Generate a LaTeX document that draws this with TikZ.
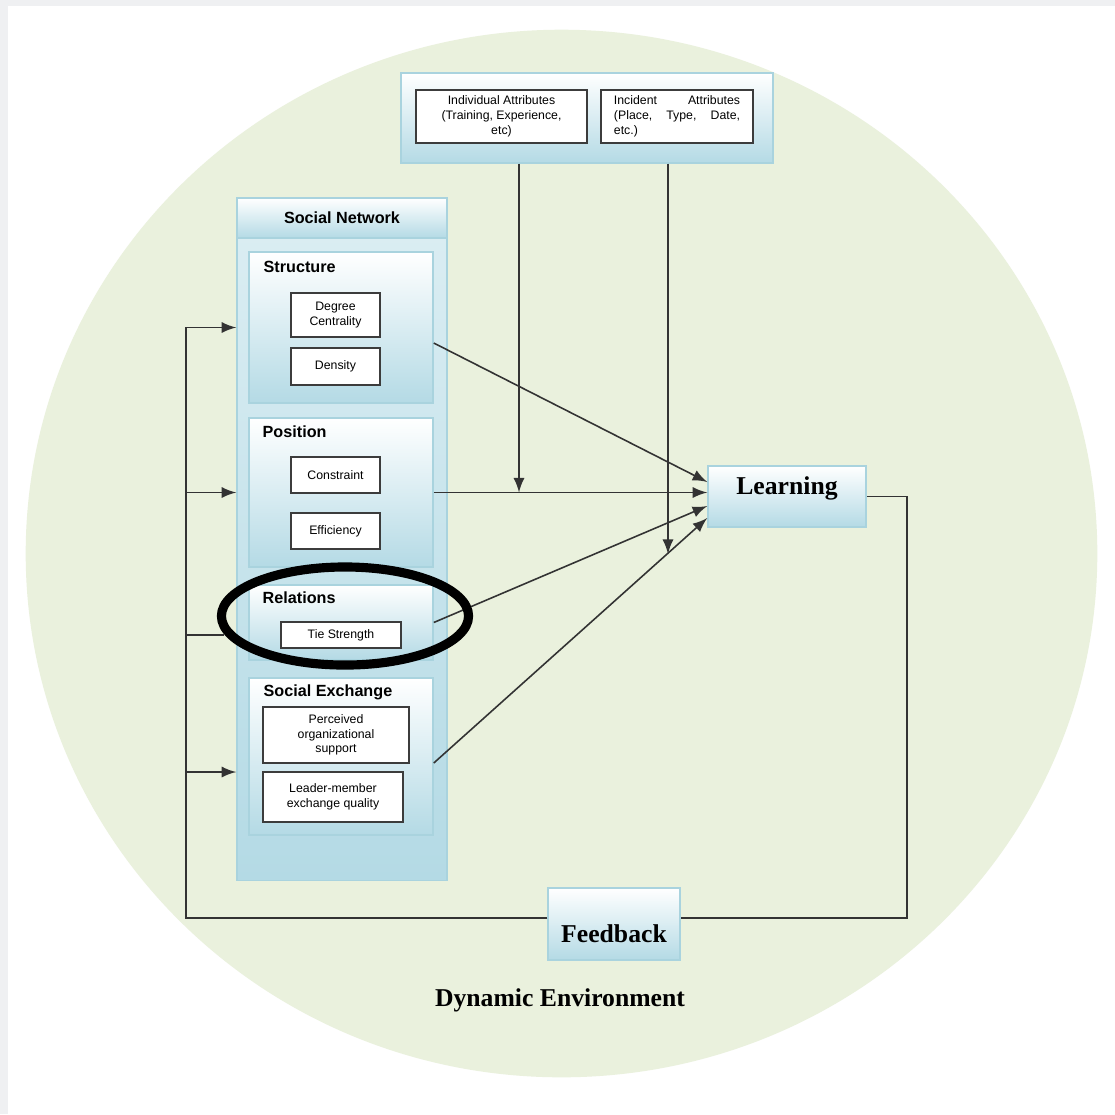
\documentclass[tikz,border=0pt]{standalone}
\usepackage{fontspec}
\setmainfont{Liberation Serif}
\setsansfont{Liberation Sans}
\usetikzlibrary{arrows}
\usetikzlibrary{positioning, shapes.geometric}

\definecolor{envGreen}{HTML}{EAF1DD}
\definecolor{frameGray}{HTML}{EFF0F2}
\definecolor{boxBlue}{HTML}{B4DAE5}
\definecolor{snTop}{HTML}{DCEEF3}
\definecolor{boxLine}{HTML}{A9D3DE}
\definecolor{textLine}{HTML}{3C3C3C}
\definecolor{linkGray}{HTML}{333333}

\tikzset{
  panel/.style={draw=boxLine, line width=0.4pt, top color=white, bottom color=boxBlue, inner sep=0pt},
  itembox/.style={draw=textLine, fill=white, line width=0.6pt, inner sep=0pt, align=center,
    font=\sffamily\fontsize{3.5}{4.2}\selectfont},
  paneltitle/.style={anchor=west, inner sep=0pt, font=\sffamily\bfseries\fontsize{4.6}{5.5}\selectfont},
  bigbold/.style={font=\bfseries\fontsize{7.3}{8.5}\selectfont},
  link/.style={draw=linkGray, line width=0.45pt},
  ring/.style={draw, ellipse, line width=2.6pt, inner sep=0pt}
}

\begin{document}
\begin{tikzpicture}[x=0.01cm, y=-0.01cm, >=latex]
\useasboundingbox (0,0) rectangle (1115,1114);
\fill[white] (0,0) rectangle (1115,1114);
\fill[frameGray] (0,0) rectangle (1115,6);
\fill[frameGray] (0,0) rectangle (8,1114);

% environment
\fill[envGreen] (561.5,553.5) ellipse [x radius=5.355cm, y radius=5.235cm];

% attributes
\node[panel, minimum width=3.72cm, minimum height=0.9cm] (attr) at (587,118) {};
\node[itembox, minimum width=1.71cm, minimum height=0.53cm] (indiv) at (501.5,116.5)
  {Individual Attributes\\(Training, Experience,\\etc)};
\node[itembox, minimum width=1.52cm, minimum height=0.53cm, text width=1.26cm, align=left] (incid) at (677,116.5)
  {Incident\hfill Attributes\\(Place,\hfill Type,\hfill Date,\\etc.)};

% social network
\node[panel, top color=snTop, minimum width=2.1cm, minimum height=6.8cm] (sn) at (342,540) {};
\node[panel, minimum width=2.1cm, minimum height=0.4cm,
  font=\sffamily\bfseries\fontsize{4.6}{5.5}\selectfont] (snhead) at (342,218) {Social Network};

\node[panel, minimum width=1.84cm, minimum height=1.51cm] (struct) at (341,327.5) {};
\node[paneltitle] (structT) at (263,267) {Structure};
\node[itembox, minimum width=0.89cm, minimum height=0.44cm] (degree) at (335.5,315) {Degree\\Centrality};
\node[itembox, minimum width=0.89cm, minimum height=0.37cm] (dens) at (335.5,366.5) {Density};

\node[panel, minimum width=1.84cm, minimum height=1.49cm] (pos) at (341,492.5) {};
\node[paneltitle] (posT) at (262,432) {Position};
\node[itembox, minimum width=0.89cm, minimum height=0.36cm] (constr) at (335.5,475) {Constraint};
\node[itembox, minimum width=0.89cm, minimum height=0.36cm] (effic) at (335.5,531) {Efficiency};

\node[panel, minimum width=1.84cm, minimum height=0.75cm] (rel) at (341,622.5) {};
\node[paneltitle] (relT) at (262,598) {Relations};
\node[itembox, minimum width=1.2cm, minimum height=0.26cm] (tie) at (341,635) {Tie Strength};

\node[panel, minimum width=1.84cm, minimum height=1.57cm] (socex) at (341,756.5) {};
\node[paneltitle] (socexT) at (263,692) {Social Exchange};
\node[itembox, minimum width=1.46cm, minimum height=0.56cm] (perc) at (336,735) {Perceived\\organizational\\support};
\node[itembox, minimum width=1.40cm, minimum height=0.50cm] (lmx) at (333,797) {Leader-member\\exchange quality};

% learning, feedback
\node[panel, bigbold, text height=5pt, text depth=6pt, minimum width=1.58cm, minimum height=0.61cm] (learn) at (787,496.5) {Learning};
\node[panel, bigbold, text height=10.5pt, text depth=0pt, minimum width=1.32cm, minimum height=0.72cm] (feed) at (614,924) {Feedback};
\node[bigbold] (env) at (560,1000) {Dynamic Environment};

\coordinate (loopR) at (907,918);
\coordinate (loopL) at (186,918);
\coordinate (exIn) at (186,772);
\coordinate (modA) at (519,492.5);
\coordinate (modB) at (668,554);

\begin{scope}[link]
\draw (learn.east) -| (loopR) -- (feed.east |- loopR);
\draw[->] (feed.west |- loopL) -- (loopL) |- (sn.west |- struct.west);
\draw[->] (loopL |- pos.west) -- (sn.west |- pos.west);
\draw[->] (exIn) -- (sn.west |- exIn);

\draw[->] ([yshift=-0.155cm]struct.east) -- ([yshift=0.145cm]learn.west);
\draw[->] (pos.east) -- (learn.west |- pos.east);
\draw[->] (rel.east) -- ([yshift=-0.095cm]learn.west);
\draw[->] ([yshift=-0.065cm]socex.east) -- ([yshift=-0.215cm]learn.west);

\draw[->] (modA |- attr.south) -- (modA);
\draw[->] (modB |- attr.south) -- (modB);
\end{scope}

% highlight
\node[ring, minimum width=2.47cm, minimum height=0.98cm] (halo) at (345,616) {};
\draw[link, shorten >=-2pt] (loopL |- tie.west) -- (halo.west |- tie.west);
\end{tikzpicture}
\end{document}
